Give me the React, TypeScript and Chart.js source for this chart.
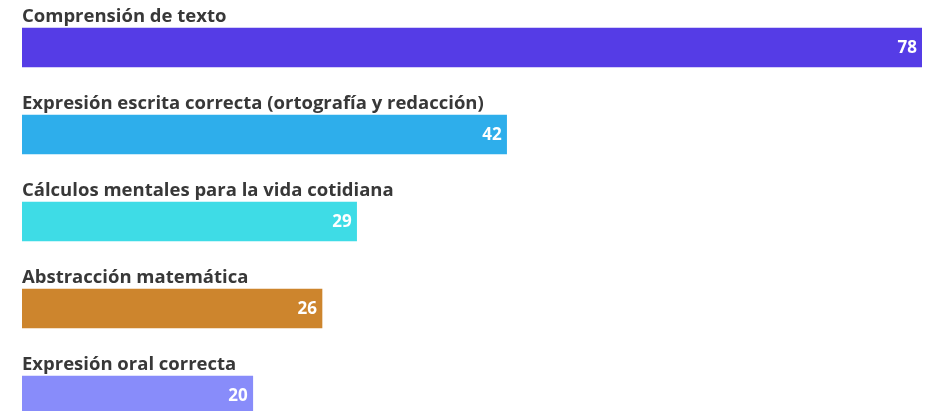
import React, { useEffect, useRef } from "react";
import { Chart, registerables } from "chart.js";

Chart.register(...registerables);

const categories: string[] = [
  "Comprensión de texto",
  "Expresión escrita correcta (ortografía y redacción)",
  "Cálculos mentales para la vida cotidiana",
  "Abstracción matemática",
  "Expresión oral correcta",
];
const values: number[] = [78, 42, 29, 26, 20];
const colors: string[] = ["#553CE6", "#2EAEEB", "#3EDCE6", "#CD852D", "#888CFA"];

const FONT = "'Open Sans', sans-serif";

const labelPlugin = {
  id: "barLabels",
  afterDatasetsDraw(chart: any) {
    const ctx = chart.ctx;
    const meta = chart.getDatasetMeta(0);
    ctx.save();
    meta.data.forEach((bar: any, i: number) => {
      const top = bar.y - bar.height / 2;
      ctx.font = `bold 18.5px ${FONT}`;
      ctx.fillStyle = "#383838";
      ctx.textAlign = "left";
      ctx.textBaseline = "alphabetic";
      ctx.fillText(categories[i], bar.base, top - 6);
      ctx.font = `bold 17px ${FONT}`;
      ctx.fillStyle = "#ffffff";
      ctx.textAlign = "right";
      ctx.textBaseline = "middle";
      ctx.fillText(String(values[i]), bar.x - 5, bar.y + 1);
    });
    ctx.restore();
  },
};

export default function App() {
  const ref = useRef<HTMLCanvasElement | null>(null);
  useEffect(() => {
    if (!ref.current) return;
    const chart = new Chart(ref.current, {
      type: "bar",
      data: {
        labels: categories,
        datasets: [
          {
            data: values,
            backgroundColor: colors,
            barThickness: 39,
            borderWidth: 0,
          },
        ],
      },
      options: {
        indexAxis: "y",
        animation: false,
        responsive: false,
        maintainAspectRatio: false,
        layout: { padding: { left: 22, right: 6, top: 4, bottom: 1 } },
        plugins: { legend: { display: false }, tooltip: { enabled: false } },
        scales: {
          x: { display: false, min: 0, max: 78 },
          y: { display: false, offset: true },
        },
      },
      plugins: [labelPlugin],
    });
    return () => chart.destroy();
  }, []);
  return (
    <div style={{ position: "fixed", left: 0, top: 0, width: 928, height: 440, background: "#fff" }}>
      <canvas ref={ref} width={928} height={440} style={{ width: 928, height: 440 }} />
    </div>
  );
}
